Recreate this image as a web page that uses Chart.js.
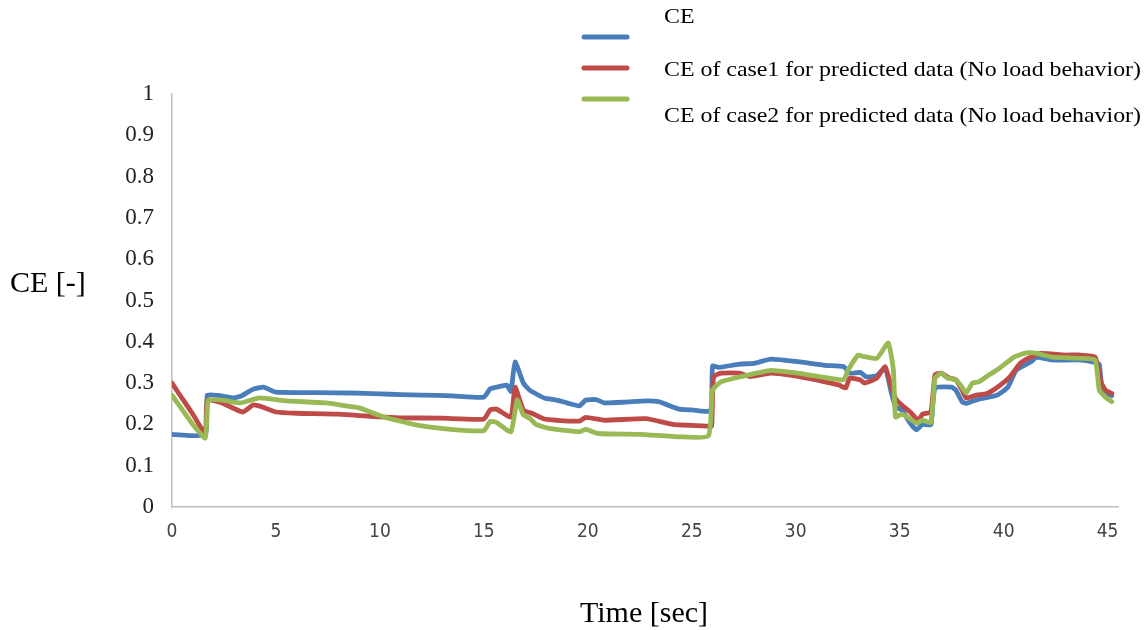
<!DOCTYPE html>
<html>
<head>
<meta charset="utf-8">
<title>CE [-] vs Time [sec]</title>
<script src="https://cdn.jsdelivr.net/npm/chart.js@4/dist/chart.umd.min.js"></script>
<style>
  html, body { margin: 0; padding: 0; background: #ffffff; }
  #wrap { width: 1146px; height: 630px; position: relative; }
</style>
</head>
<body>
<div id="wrap"><canvas id="chart" width="1146" height="630"></canvas></div>
<script>
// Measured CE
const ceTime = [0, 1.6, 1.7, 2.2, 2.9, 3.3, 3.9, 4.4, 5, 7, 8.6, 10, 11, 12, 13.5, 15, 15.3, 15.6, 16.1, 16.3, 16.5, 16.9, 17.2, 17.9, 18.5, 19.0, 19.6, 19.9, 20.4, 20.8, 21.8, 22.8, 23.4, 24.4, 25.0, 25.9, 26.0, 26.3, 27.3, 28.0, 28.8, 30.1, 31.4, 32.3, 32.6, 33.1, 33.4, 33.9, 34.3, 34.6, 34.8, 35.1, 35.5, 35.8, 36.1, 36.5, 36.7, 37.5, 37.7, 38.0, 38.2, 38.8, 39.7, 40.2, 40.6, 41.3, 41.6, 42.3, 43.6, 44.4, 44.6, 44.7, 44.9, 45.2];
const ceValues = [0.176, 0.175, 0.271, 0.27, 0.264, 0.268, 0.285, 0.29, 0.278, 0.277, 0.276, 0.274, 0.272, 0.271, 0.269, 0.266, 0.286, 0.29, 0.295, 0.28, 0.351, 0.30, 0.283, 0.264, 0.259, 0.252, 0.245, 0.259, 0.26, 0.252, 0.254, 0.257, 0.255, 0.237, 0.235, 0.233, 0.341, 0.338, 0.346, 0.348, 0.358, 0.352, 0.343, 0.34, 0.324, 0.326, 0.315, 0.318, 0.337, 0.276, 0.243, 0.235, 0.203, 0.187, 0.2, 0.199, 0.288, 0.29, 0.283, 0.255, 0.251, 0.261, 0.271, 0.29, 0.331, 0.351, 0.363, 0.356, 0.356, 0.35, 0.345, 0.3, 0.276, 0.27];

// Case 1 prediction (no load behavior)
const case1Time = [0, 0.5, 1.0, 1.6, 1.7, 2.4, 3.4, 3.9, 4.3, 5, 6, 8, 10, 11, 13, 15, 15.3, 15.6, 16.3, 16.5, 16.9, 17.3, 17.9, 18.5, 19.6, 19.9, 20.8, 22.8, 24.1, 25.7, 25.95, 26.05, 26.4, 27.3, 27.8, 28.8, 30.1, 31.4, 32.1, 32.4, 32.6, 33.1, 33.3, 33.9, 34.3, 34.6, 34.8, 35.1, 35.5, 35.9, 36.1, 36.5, 36.7, 37.0, 37.4, 37.7, 38.0, 38.2, 38.7, 39.2, 39.7, 40.3, 40.8, 41.3, 41.8, 42.9, 43.6, 44.4, 44.7, 44.9, 45.2];
const case1Values = [0.30, 0.262, 0.225, 0.178, 0.259, 0.252, 0.23, 0.247, 0.243, 0.23, 0.227, 0.225, 0.218, 0.216, 0.215, 0.213, 0.235, 0.237, 0.218, 0.29, 0.235, 0.227, 0.213, 0.21, 0.208, 0.217, 0.21, 0.214, 0.2, 0.196, 0.196, 0.315, 0.324, 0.324, 0.316, 0.324, 0.316, 0.303, 0.295, 0.288, 0.312, 0.308, 0.3, 0.312, 0.34, 0.29, 0.263, 0.247, 0.23, 0.21, 0.225, 0.23, 0.32, 0.324, 0.312, 0.308, 0.283, 0.264, 0.271, 0.275, 0.29, 0.315, 0.348, 0.363, 0.372, 0.368, 0.368, 0.363, 0.3, 0.283, 0.275];

// Case 2 prediction (no load behavior)
const case2Time = [0, 0.5, 1.0, 1.6, 1.75, 2.5, 3.3, 4.2, 5.5, 7.4, 8.6, 9.0, 10.2, 11.8, 13.4, 15, 15.3, 15.6, 16.3, 16.6, 16.9, 17.2, 17.5, 18.2, 19.6, 19.9, 20.5, 22.5, 24.4, 25.8, 26.0, 26.4, 27.3, 28.8, 30.1, 32.3, 32.5, 33.0, 33.2, 33.9, 34.45, 34.7, 34.8, 35.1, 35.3, 35.8, 36.1, 36.5, 36.7, 37.0, 37.3, 37.7, 38.0, 38.2, 38.5, 38.8, 39.3, 39.8, 40.5, 41.1, 41.6, 42.3, 43.7, 44.4, 44.6, 44.9, 45.2];
const case2Values = [0.27, 0.235, 0.2, 0.167, 0.259, 0.258, 0.252, 0.264, 0.257, 0.252, 0.243, 0.24, 0.218, 0.198, 0.188, 0.185, 0.207, 0.205, 0.182, 0.259, 0.223, 0.215, 0.2, 0.19, 0.182, 0.188, 0.178, 0.176, 0.17, 0.172, 0.283, 0.303, 0.315, 0.331, 0.324, 0.308, 0.33, 0.368, 0.365, 0.36, 0.397, 0.33, 0.218, 0.225, 0.22, 0.203, 0.21, 0.205, 0.312, 0.324, 0.312, 0.308, 0.29, 0.276, 0.3, 0.303, 0.32, 0.336, 0.363, 0.373, 0.372, 0.363, 0.36, 0.356, 0.283, 0.266, 0.255];

const seriesNames = ['CE', 'CE of case1 for predicted data (No load behavior)', 'CE of case2 for predicted data (No load behavior)'];
const seriesColors = ['#4A7EBB', '#BE4B48', '#98B954'];
const xTickValues = [0, 5, 10, 15, 20, 25, 30, 35, 40, 45];
const yTickValues = [0, 0.1, 0.2, 0.3, 0.4, 0.5, 0.6, 0.7, 0.8, 0.9, 1];
const yAxisTitle = 'CE [-]';
const xAxisTitle = 'Time [sec]';

const toPoints = (ts, vs) => ts.map((t, i) => ({ x: t, y: vs[i] }));

const SERIF = '"Liberation Serif", "Times New Roman", serif';
const NARROW = '"Liberation Sans Narrow", "DejaVu Sans Condensed", "Liberation Sans", sans-serif';

// Axis titles and the stacked legend at the top right
const decorations = {
  id: 'decorations',
  afterDraw(chart) {
    const ctx = chart.ctx;
    ctx.save();
    ctx.fillStyle = '#000';
    ctx.textBaseline = 'middle';
    ctx.font = '30px ' + SERIF;
    ctx.textAlign = 'left';
    ctx.fillText(yAxisTitle, 10, 284);
    ctx.textAlign = 'center';
    ctx.fillText(xAxisTitle, 644, 614);

    const lineY = [37, 68, 99];
    const textY = [17, 70, 116];
    ctx.font = '22px ' + SERIF;
    ctx.textAlign = 'left';
    ctx.lineCap = 'round';
    // legend entries are set in a slightly wide face; stretch to the column width
    const widest = Math.max(...seriesNames.map(s => ctx.measureText(s).width));
    const stretch = 477 / widest;
    for (let i = 0; i < seriesNames.length; i++) {
      ctx.strokeStyle = seriesColors[i];
      ctx.lineWidth = 5;
      ctx.beginPath();
      ctx.moveTo(584, lineY[i]);
      ctx.lineTo(627, lineY[i]);
      ctx.stroke();
      ctx.save();
      ctx.translate(664, textY[i]);
      ctx.scale(stretch, 1);
      ctx.fillText(seriesNames[i], 0, 0);
      ctx.restore();
    }
    ctx.restore();
  }
};

const datasets = [
  toPoints(ceTime, ceValues),
  toPoints(case1Time, case1Values),
  toPoints(case2Time, case2Values)
].map((pts, i) => ({
  label: seriesNames[i],
  data: pts,
  borderColor: seriesColors[i],
  backgroundColor: seriesColors[i],
  borderWidth: 4.8,
  pointRadius: 0,
  tension: 0.15,
  borderJoinStyle: 'round',
  borderCapStyle: 'round'
}));
// green on top, then red, then blue
datasets[0].order = 3;
datasets[1].order = 2;
datasets[2].order = 1;

new Chart(document.getElementById('chart'), {
  type: 'line',
  data: { datasets },
  options: {
    responsive: false,
    animation: false,
    devicePixelRatio: 1,
    layout: { padding: { left: 0, right: 28, top: 94, bottom: 0 } },
    plugins: { legend: { display: false }, tooltip: { enabled: false } },
    scales: {
      x: {
        type: 'linear',
        min: 0,
        max: 45.5,
        afterBuildTicks(scale) { scale.ticks = xTickValues.map(v => ({ value: v })); },
        afterFit(scale) { scale.height = 123; },
        grid: { display: false, drawTicks: false },
        border: { display: true, color: '#BFBFBF', width: 1.5 },
        ticks: {
          padding: 14,
          maxRotation: 0,
          autoSkip: false,
          color: '#444',
          font: { family: NARROW, size: 19 },
          callback: v => String(v)
        }
      },
      y: {
        min: 0,
        max: 1,
        afterBuildTicks(scale) { scale.ticks = yTickValues.map(v => ({ value: v })); },
        afterFit(scale) { scale.width = 172; },
        grid: { display: false, drawTicks: false },
        border: { display: true, color: '#BFBFBF', width: 1.5 },
        ticks: {
          padding: 18,
          color: '#222',
          font: { family: SERIF, size: 23 },
          callback: v => String(Math.round(v * 10) / 10)
        }
      }
    }
  },
  plugins: [decorations]
});
</script>
</body>
</html>
